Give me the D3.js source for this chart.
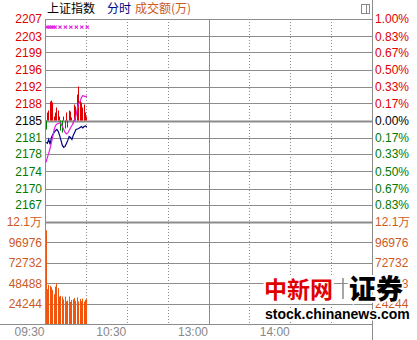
<!DOCTYPE html>
<html><head><meta charset="utf-8">
<script src="https://cdn.jsdelivr.net/npm/d3@7"></script>
<style>
html,body{margin:0;padding:0;background:#fff;}
svg{display:block;}
text{font-family:"Liberation Sans",Arial,sans-serif;font-size:12px;}
.cjk{font-family:"Noto Sans CJK SC","Liberation Sans",sans-serif;}
</style>
</head><body>
<svg id="c" width="417" height="340"></svg>
<script>
// ---------------- data ----------------
const prevClose = 2185.2;
const times = ["09:30","09:31","09:32","09:33","09:34","09:35","09:36","09:37","09:38","09:39",
               "09:40","09:41","09:42","09:43","09:44","09:45","09:46","09:47","09:48","09:49",
               "09:50","09:51","09:52","09:53","09:54","09:55","09:56","09:57","09:58","09:59","10:00"];
const indexPrice = [2176.20,2177.27,2178.13,2179.20,2180.49,2181.77,2183.27,2184.13,2184.45,2184.56,
                    2184.66,2184.56,2183.91,2183.27,2182.63,2182.31,2182.52,2183.06,2183.59,2184.13,
                    2184.77,2185.31,2186.27,2187.77,2188.84,2189.27,2190.13,2190.56,2190.45,2190.34,2190.45];
const leadIndex  = [2180.49,2180.27,2181.13,2180.06,2181.56,2182.20,2182.63,2183.06,2183.27,2182.84,
                    2181.99,2180.92,2179.84,2179.42,2179.63,2180.27,2180.92,2181.77,2181.56,2181.13,
                    2181.99,2182.63,2183.27,2183.38,2183.49,2183.70,2183.91,2183.59,2183.91,2184.02,2183.81];
const buySellDiff = [-9,8,10,19,20,18,4,8,13,10,
                     4,-10,-12,4,-8,8,-7,10,9,3,
                     -3,16,14,26,34,20,18,13,16,8,4];
const volume = [111300,41400,46500,45300,43700,40600,35400,44500,48500,42500,
                32600,33400,32600,29400,32600,27000,27800,32600,26200,28600,
                29400,30800,27500,31600,26800,29800,27200,30200,26500,28900,29500];
const markerMinutes = [1.5,3,4.5,6,7.5,11,15,19,23,27,31];

const priceTickLabels = ["2207","2203","2199","2196","2192","2188","2185","2181","2178","2174","2170","2167"];
const pctTicks = [1.00,0.83,0.67,0.50,0.33,0.17,0,-0.17,-0.33,-0.50,-0.67,-0.83];
const pctTickLabels = ["1.00%","0.83%","0.67%","0.50%","0.33%","0.17%","0.00%","0.17%","0.33%","0.50%","0.67%","0.83%"];
const volTicks = [121220,96976,72732,48488,24244];
const volTickLabels = ["12.1万","96976","72732","48488","24244"];
const gridMinutes = [30,60,90,150,180,210];
const timeTickMinutes = [0,60,120,180];
const timeTickLabels = ["09:30","10:30","13:00","14:00"];

// ---------------- layout ----------------
const svg = d3.select("#c");
const L = 45, R = 372, T = 19, MID = 222, B = 324;
const x = d3.scaleLinear().domain([0,240]).range([L,R]);
const yPct = d3.scaleLinear().domain([-1,1]).range([MID,T]);
const yPrice = p => yPct((p/prevClose-1)*100);
const yVol = d3.scaleLinear().domain([0,121220]).range([B,MID]);
const barH = d3.scaleLinear().domain([0,1]).range([0,1]);
const toMin = t => { const [h,m] = t.split(":").map(Number); return (h*60+m) - (9*60+30); };
const px = v => Math.round(v)+0.5;
const bx = m => Math.floor(x(m))+1;

const COL = {grid:"#8c8c8c", red:"#e00000", green:"#007a00", vol:"#cc5a1e", volBar:"#f05510",
             mag:"#e21fe2", navy:"#000080", time:"#888888"};

// horizontal grid (price)
pctTicks.forEach(p=>{
  svg.append("line").attr("x1",L).attr("x2",R).attr("y1",px(yPct(p))).attr("y2",px(yPct(p)))
    .attr("stroke",COL.grid).attr("stroke-width", p===0?2:1);
});
// volume grid
volTicks.forEach(v=>{
  svg.append("line").attr("x1",L).attr("x2",R).attr("y1",px(yVol(v))).attr("y2",px(yVol(v)))
    .attr("stroke",COL.grid).attr("stroke-width", v===121220?2:1);
});
// vertical dotted grid
gridMinutes.forEach(m=>{
  svg.append("line").attr("x1",px(x(m))).attr("x2",px(x(m))).attr("y1",T).attr("y2",B)
    .attr("stroke",COL.grid).attr("stroke-dasharray","1,2");
});
// solid mid (13:00) line
svg.append("line").attr("x1",px(x(120))).attr("x2",px(x(120))).attr("y1",T).attr("y2",B)
  .attr("stroke",COL.grid);
// borders
svg.append("line").attr("x1",px(L)).attr("x2",px(L)).attr("y1",T).attr("y2",B).attr("stroke",COL.grid);
svg.append("line").attr("x1",px(R)).attr("x2",px(R)).attr("y1",0).attr("y2",340).attr("stroke",COL.grid);
svg.append("line").attr("x1",0).attr("x2",R).attr("y1",px(B)).attr("y2",px(B)).attr("stroke",COL.grid);

// buy/sell bars
const zeroY = yPct(0);
svg.append("g").selectAll("rect").data(buySellDiff).join("rect")
  .attr("x",(d,i)=>bx(toMin(times[i])))
  .attr("width",1)
  .attr("y",d=> d>=0 ? zeroY-barH(d) : zeroY)
  .attr("height",d=>barH(Math.abs(d)))
  .attr("fill",d=> d>=0?COL.red:COL.green);

// volume bars
svg.append("g").selectAll("rect").data(volume).join("rect")
  .attr("x",(d,i)=>bx(toMin(times[i])))
  .attr("width",1)
  .attr("y",d=>yVol(d))
  .attr("height",d=>yVol(0)-yVol(d))
  .attr("fill",COL.volBar);

// lines
const lineGen = arr => d3.line().x((d,i)=>x(toMin(times[i]))+1).y(d=>yPrice(d))(arr);
svg.append("path").attr("d",lineGen(leadIndex)).attr("fill","none").attr("stroke",COL.navy).attr("stroke-width",1.2);
svg.append("path").attr("d",lineGen(indexPrice)).attr("fill","none").attr("stroke",COL.mag).attr("stroke-width",1.2);

// markers
const mY = yPct(0.92);
markerMinutes.forEach(m=>{
  const cx = x(m);
  svg.append("path").attr("d",`M${cx-1.6},${mY-1.6}L${cx+1.6},${mY+1.6}M${cx-1.6},${mY+1.6}L${cx+1.6},${mY-1.6}`)
    .attr("stroke",COL.mag).attr("stroke-width",1.1);
});

// left price labels & right pct labels
pctTicks.forEach((p,i)=>{
  const c = p>0?COL.red:(p<0?COL.green:"#000");
  svg.append("text").attr("x",42).attr("y",yPct(p)).attr("dy","0.36em").attr("text-anchor","end")
    .attr("fill",c).text(priceTickLabels[i]);
  svg.append("text").attr("x",375).attr("y",yPct(p)).attr("dy","0.36em")
    .attr("fill",c).text(pctTickLabels[i]);
});
// volume labels
volTicks.forEach((v,i)=>{
  svg.append("text").attr("x",42).attr("y",yVol(v)).attr("dy","0.36em").attr("text-anchor","end")
    .attr("fill",COL.vol).text(volTickLabels[i]);
  svg.append("text").attr("x",375).attr("y",yVol(v)).attr("dy","0.36em")
    .attr("fill",COL.vol).text(volTickLabels[i]);
});
// time labels
timeTickMinutes.forEach((m,i)=>{
  svg.append("text").attr("x",x(m)-0.5).attr("y",336).attr("text-anchor","end")
    .attr("fill",COL.time).text(timeTickLabels[i]);
});

// title
const tt = svg.append("text").attr("class","cjk").attr("x",47).attr("y",13);
tt.append("tspan").attr("fill","#000").text("上证指数");
tt.append("tspan").attr("x",107).attr("fill",COL.navy).text("分时");
tt.append("tspan").attr("x",135).attr("fill",COL.vol).text("成交额(万)");

// top-right icon
svg.append("rect").attr("x",361.5).attr("y",4.5).attr("width",8).attr("height",9)
  .attr("fill","#fff").attr("stroke","#888");
svg.append("line").attr("x1",366.5).attr("x2",366.5).attr("y1",4.5).attr("y2",13.5).attr("stroke","#888");

// watermark
const wm = svg.append("g");
wm.append("text").attr("class","cjk").attr("x",264).attr("y",298)
  .style("font-size","23px").style("font-weight","bold").attr("fill","#e00000")
  .attr("stroke","#fff").attr("stroke-width",5).attr("paint-order","stroke").text("中新网");
wm.append("line").attr("x1",343).attr("x2",343).attr("y1",278).attr("y2",299).attr("stroke","#888").attr("stroke-width",1.5);
wm.append("text").attr("class","cjk").attr("x",349).attr("y",299)
  .style("font-size","27px").style("font-weight","900").attr("fill","#000")
  .attr("stroke","#fff").attr("stroke-width",4).attr("paint-order","stroke").text("证券");
wm.append("text").attr("x",265).attr("y",319)
  .style("font-size","14px").style("font-weight","bold").attr("fill","#000")
  .attr("stroke","#fff").attr("stroke-width",3).attr("paint-order","stroke").text("stock.chinanews.com");
</script>
</body></html>
